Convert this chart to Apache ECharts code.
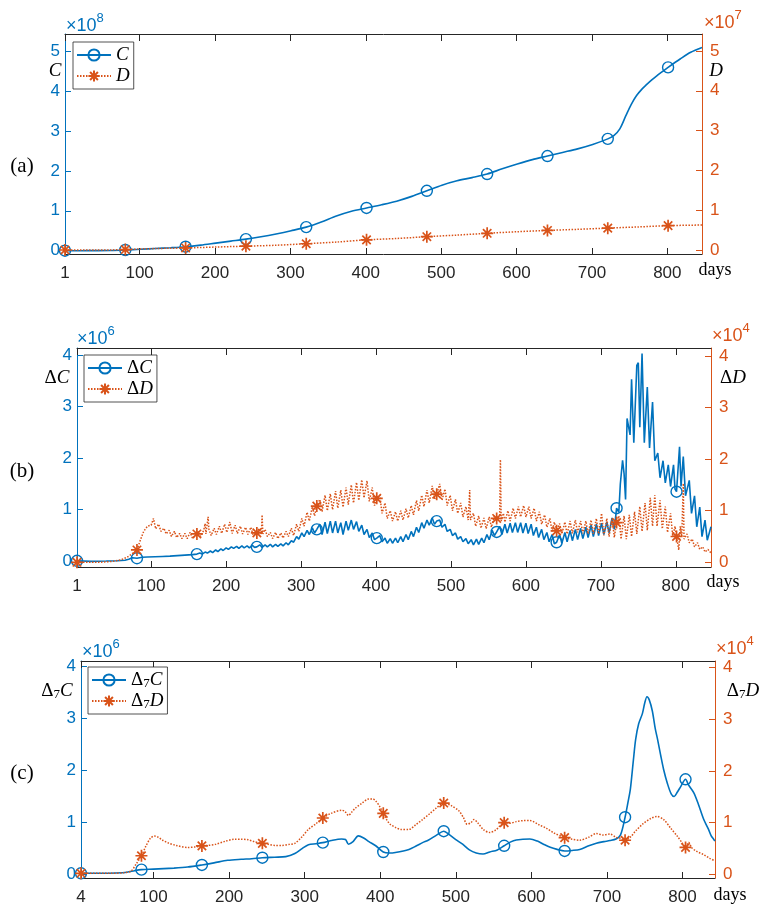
<!DOCTYPE html>
<html>
<head>
<meta charset="utf-8">
<script src="https://cdn.jsdelivr.net/npm/echarts@6/dist/echarts.min.js"></script>
<style>
  html, body { margin: 0; padding: 0; background: #fff; }
  #chart { width: 765px; height: 906px; }
</style>
</head>
<body>
<div id="chart"></div>
<script>
// ---------------- data ----------------
// (a) cumulative cases C (×10^8) and cumulative deaths D (×10^7), [day, value]
const cumCases = [[1,0],[21,0],[41,0.001],[61,0.004],[81,0.017],[101,0.035],[121,0.055],[141,0.075],[161,0.1],[181,0.14],[201,0.19],[221,0.24],[241,0.29],[261,0.35],[281,0.42],[301,0.5],[321,0.59],[341,0.72],[361,0.87],[381,0.99],[401,1.07],[421,1.15],[441,1.24],[461,1.36],[481,1.5],[501,1.64],[521,1.75],[541,1.83],[561,1.92],[581,2.05],[601,2.17],[621,2.28],[641,2.37],[661,2.46],[681,2.55],[701,2.66],[721,2.8],[729,2.88],[737,3.05],[745,3.38],[752,3.66],[759,3.88],[766,4.04],[772,4.15],[779,4.27],[786,4.38],[793,4.48],[801,4.59],[817,4.8],[831,4.97],[846,5.09]];
const cumDeaths = [[1,0],[41,0.0003],[61,0.002],[81,0.012],[101,0.027],[121,0.037],[141,0.045],[161,0.052],[201,0.075],[241,0.097],[281,0.12],[321,0.158],[361,0.2],[401,0.255],[441,0.29],[481,0.335],[521,0.375],[561,0.42],[601,0.46],[641,0.492],[681,0.52],[721,0.55],[761,0.58],[801,0.612],[846,0.628]];

// (b) daily new cases ΔC (×10^6) and daily new deaths ΔD (×10^4)
const dailyCases = [[1,0.01],[20,0],[40,0.005],[55,0.01],[65,0.02],[70,0.04],[75,0.07],[81,0.06],[88,0.08],[95,0.085],[105,0.09],[115,0.095],[125,0.1],[135,0.11],[145,0.12],[155,0.13],[161,0.14],[165,0.16],[168,0.14],[172,0.18],[175,0.16],[179,0.2],[182,0.17],[186,0.22],[189,0.19],[193,0.24],[196,0.21],[200,0.26],[203,0.23],[207,0.28],[210,0.25],[214,0.29],[217,0.25],[221,0.3],[224,0.26],[228,0.3],[231,0.26],[235,0.31],[238,0.27],[241,0.28],[245,0.32],[248,0.27],[252,0.32],[255,0.28],[259,0.33],[262,0.28],[266,0.33],[269,0.29],[273,0.34],[276,0.3],[280,0.36],[283,0.32],[287,0.4],[290,0.37],[294,0.48],[297,0.43],[301,0.55],[304,0.48],[308,0.6],[311,0.52],[315,0.65],[318,0.55],[321,0.62],[325,0.72],[328,0.52],[332,0.76],[335,0.54],[339,0.78],[342,0.55],[346,0.78],[349,0.55],[353,0.75],[356,0.52],[360,0.78],[363,0.6],[367,0.8],[370,0.62],[374,0.77],[377,0.58],[381,0.7],[384,0.52],[388,0.62],[391,0.46],[395,0.55],[398,0.42],[401,0.45],[405,0.5],[408,0.38],[412,0.45],[415,0.35],[419,0.44],[422,0.35],[426,0.45],[429,0.36],[433,0.48],[436,0.38],[440,0.52],[443,0.42],[447,0.58],[450,0.48],[454,0.66],[457,0.56],[461,0.75],[464,0.64],[468,0.8],[471,0.7],[475,0.84],[478,0.72],[481,0.78],[485,0.8],[488,0.66],[492,0.72],[495,0.58],[499,0.62],[502,0.5],[506,0.55],[509,0.43],[513,0.48],[516,0.38],[520,0.44],[523,0.34],[527,0.42],[530,0.32],[534,0.43],[537,0.33],[541,0.45],[544,0.36],[548,0.52],[551,0.42],[555,0.6],[558,0.5],[561,0.57],[565,0.68],[568,0.52],[572,0.72],[575,0.55],[579,0.74],[582,0.56],[586,0.75],[589,0.56],[593,0.75],[596,0.55],[600,0.74],[603,0.54],[607,0.72],[610,0.5],[614,0.66],[617,0.46],[621,0.62],[624,0.42],[628,0.56],[631,0.38],[635,0.52],[638,0.34],[641,0.37],[645,0.52],[648,0.35],[652,0.56],[655,0.38],[659,0.6],[662,0.4],[666,0.62],[669,0.42],[673,0.64],[676,0.44],[680,0.66],[683,0.46],[687,0.7],[690,0.48],[694,0.72],[697,0.5],[701,0.74],[704,0.52],[708,0.76],[711,0.55],[715,0.84],[718,0.62],[721,1.03],[724,0.95],[726,1.5],[729,1.96],[731,1.7],[733,1.2],[735,2.77],[737,2.75],[739,2.45],[741,3.53],[744,2.3],[748,3.8],[750,3.85],[752,2.6],[755,4.03],[758,2.3],[762,3.38],[765,2.2],[769,3.09],[772,1.95],[776,2.1],[779,1.62],[783,1.95],[786,1.52],[790,1.87],[793,1.45],[797,1.87],[799,1.4],[801,1.35],[805,2.22],[807,1.45],[810,2.03],[813,1.27],[818,1.57],[821,0.93],[825,1.27],[828,0.67],[832,1.05],[835,0.48],[839,0.8],[842,0.41],[847,0.67]];
const dailyDeaths = [[1,0],[30,0],[50,0.02],[60,0.05],[68,0.1],[75,0.17],[81,0.24],[86,0.45],[90,0.6],[95,0.7],[100,0.72],[103,0.85],[106,0.65],[110,0.74],[113,0.6],[117,0.66],[120,0.55],[124,0.62],[127,0.5],[131,0.6],[134,0.48],[138,0.56],[141,0.46],[145,0.56],[148,0.46],[152,0.58],[155,0.47],[161,0.55],[163,0.6],[166,0.5],[170,0.62],[172,0.75],[173,0.55],[176,0.88],[177,0.64],[180,0.52],[184,0.66],[187,0.54],[191,0.7],[194,0.56],[198,0.74],[201,0.58],[205,0.78],[208,0.56],[212,0.72],[215,0.56],[219,0.7],[222,0.55],[226,0.68],[229,0.54],[233,0.68],[236,0.53],[241,0.57],[244,0.65],[247,0.55],[248,0.92],[249,0.55],[252,0.64],[255,0.5],[259,0.58],[262,0.46],[266,0.58],[269,0.46],[273,0.57],[276,0.47],[280,0.6],[283,0.5],[287,0.66],[290,0.52],[294,0.74],[297,0.6],[301,0.85],[304,0.7],[308,0.97],[311,0.8],[315,1.08],[318,0.9],[321,1.09],[325,1.22],[328,0.98],[332,1.3],[335,1.0],[339,1.33],[342,1.02],[346,1.38],[349,1.05],[353,1.4],[356,1.07],[360,1.45],[363,1.12],[367,1.5],[370,1.15],[374,1.55],[377,1.2],[381,1.6],[384,1.25],[388,1.58],[391,1.18],[395,1.45],[398,1.1],[401,1.24],[405,1.3],[408,0.95],[412,1.15],[415,0.85],[419,1.0],[422,0.8],[426,0.98],[429,0.8],[433,1.0],[436,0.82],[440,1.04],[443,0.86],[447,1.1],[450,0.92],[454,1.2],[457,1.0],[461,1.3],[464,1.08],[468,1.4],[471,1.15],[475,1.48],[478,1.22],[481,1.32],[485,1.52],[488,1.2],[492,1.42],[495,1.1],[499,1.3],[502,1.0],[506,1.22],[509,0.95],[513,1.15],[516,0.88],[520,1.08],[523,0.82],[525,1.4],[526,0.82],[530,0.95],[533,0.7],[537,0.9],[540,0.66],[544,0.86],[547,0.65],[551,0.88],[554,0.68],[558,0.9],[561,0.85],[565,0.9],[566,1.99],[567,0.8],[570,0.95],[572,0.78],[576,1.0],[579,0.8],[583,1.05],[586,0.85],[590,1.08],[593,0.88],[597,1.1],[600,0.88],[604,1.08],[607,0.85],[611,1.05],[614,0.8],[618,0.98],[621,0.74],[625,0.92],[628,0.68],[632,0.85],[635,0.6],[638,0.78],[641,0.61],[645,0.75],[648,0.55],[652,0.78],[655,0.55],[659,0.8],[662,0.56],[666,0.82],[669,0.58],[673,0.8],[676,0.56],[680,0.8],[683,0.55],[687,0.82],[690,0.55],[694,0.85],[697,0.55],[701,0.95],[704,0.52],[708,0.85],[711,0.5],[715,0.85],[718,0.48],[721,0.77],[724,0.9],[727,0.45],[731,0.9],[734,0.45],[738,0.92],[741,0.5],[745,0.98],[748,0.55],[752,1.08],[755,0.6],[759,1.15],[762,0.62],[766,1.25],[769,0.7],[772,1.3],[775,0.7],[779,1.2],[782,0.65],[786,1.08],[789,0.58],[793,0.95],[796,0.5],[799,0.7],[801,0.5],[804,0.24],[806,0.7],[808,0.5],[810,1.53],[811,0.45],[815,0.55],[818,0.38],[822,0.45],[825,0.3],[829,0.38],[832,0.25],[836,0.3],[839,0.2],[843,0.25],[847,0.18]];

// (c) 7-day differences Δ7C (×10^6) and Δ7D (×10^4)
const weeklyCases = [[4,0.02],[30,0.02],[50,0.025],[65,0.04],[75,0.07],[84,0.09],[100,0.1],[127,0.12],[145,0.14],[164,0.18],[180,0.22],[198,0.27],[216,0.29],[230,0.3],[244,0.32],[260,0.33],[275,0.34],[287,0.4],[297,0.5],[305,0.57],[315,0.59],[324,0.61],[335,0.65],[349,0.68],[354,0.67],[358,0.58],[364,0.63],[371,0.74],[378,0.7],[385,0.63],[394,0.55],[404,0.43],[412,0.41],[420,0.42],[438,0.48],[448,0.55],[456,0.61],[464,0.66],[475,0.76],[484,0.83],[490,0.78],[500,0.67],[509,0.58],[518,0.47],[527,0.41],[536,0.39],[545,0.43],[555,0.47],[564,0.55],[572,0.62],[580,0.66],[598,0.68],[608,0.64],[616,0.58],[625,0.52],[634,0.48],[644,0.45],[654,0.46],[664,0.48],[676,0.55],[686,0.6],[696,0.63],[704,0.65],[712,0.68],[718,0.76],[724,1.1],[728,1.4],[731,1.64],[735,2.2],[738,2.6],[742,2.9],[747,3.1],[750,3.3],[753,3.42],[756,3.36],[760,3.15],[764,2.8],[767,2.6],[771,2.3],[775,2.02],[780,1.75],[785,1.55],[789,1.5],[793,1.58],[798,1.7],[804,1.83],[808,1.72],[815,1.57],[821,1.35],[828,1.06],[834,0.88],[838,0.74],[841,0.68],[843,0.64]];
const weeklyDeaths = [[4,0.02],[40,0.02],[60,0.03],[70,0.06],[77,0.2],[84,0.36],[90,0.55],[96,0.7],[101,0.74],[106,0.72],[112,0.66],[119,0.61],[130,0.56],[145,0.52],[155,0.53],[164,0.55],[172,0.56],[182,0.58],[195,0.64],[207,0.68],[216,0.68],[225,0.67],[234,0.63],[244,0.6],[252,0.58],[261,0.56],[270,0.56],[280,0.58],[287,0.6],[296,0.72],[305,0.87],[315,0.98],[324,1.09],[335,1.18],[349,1.24],[353,1.22],[358,1.14],[362,1.2],[367,1.28],[376,1.38],[385,1.46],[390,1.46],[394,1.42],[399,1.32],[404,1.18],[408,1.07],[413,0.97],[420,0.91],[427,0.87],[438,0.87],[447,0.96],[456,1.06],[466,1.18],[474,1.28],[484,1.38],[494,1.33],[504,1.23],[510,1.1],[515,0.97],[520,1.0],[524,1.06],[530,0.98],[537,0.86],[545,0.81],[553,0.86],[564,1.0],[572,0.99],[580,1.02],[590,1.04],[598,1.04],[610,0.96],[620,0.89],[630,0.8],[644,0.71],[654,0.68],[664,0.66],[676,0.72],[686,0.79],[695,0.76],[704,0.78],[713,0.71],[718,0.7],[724,0.66],[731,0.72],[738,0.84],[748,0.98],[758,1.08],[766,1.12],[775,1.06],[784,0.9],[793,0.74],[800,0.6],[804,0.52],[808,0.62],[812,0.52],[818,0.45],[828,0.38],[836,0.31],[843,0.26]];

// days that carry a marker
const markerDaysAB = [1,81,161,241,321,401,481,561,641,721,801];
const markerDaysC  = [4,84,164,244,324,404,484,564,644,724,804];

// tick labels
const dayTicksAB = [1,100,200,300,400,500,600,700,800];
const dayTicksC  = [4,100,200,300,400,500,600,700,800];
const yTicksA = [0,1,2,3,4,5];
const yTicksBC = [0,1,2,3,4];

// ---------------- styling ----------------
const BLUE = '#0072BD', ORANGE = '#D95319', DARK = '#262626';
const SANS = "'Liberation Sans', Arial, Helvetica, sans-serif";
const SERIF = "'Liberation Serif', 'DejaVu Serif', 'Times New Roman', serif";
const ASTERISK = 'path://M5 0L5 10M0 5L10 5M1.5 1.5L8.5 8.5M1.5 8.5L8.5 1.5';

const panels = [
  { grid: {left: 65, top: 34, width: 637, height: 220}, x: [1, 846], xt: dayTicksAB,
    yl: [-0.083, 5.426], yr: [-0.1, 5.427], yt: yTicksA },
  { grid: {left: 77, top: 348, width: 634, height: 219}, x: [1, 847], xt: dayTicksAB,
    yl: [-0.11, 4.136], yr: [-0.091, 4.155], yt: yTicksBC },
  { grid: {left: 81, top: 661, width: 634, height: 218}, x: [4, 843], xt: dayTicksC,
    yl: [-0.071, 4.109], yr: [-0.071, 4.129], yt: yTicksBC }
];

const grids = [], xAxes = [], yAxes = [];
panels.forEach((p, i) => {
  grids.push(p.grid);
  const tickInside = (vals, color, len) => ({show: true, inside: true, length: len, customValues: vals,
                                             lineStyle: {color, width: 1}});
  xAxes.push({
    type: 'value', gridIndex: i, position: 'bottom', min: p.x[0], max: p.x[1],
    axisLine: {onZero: false, lineStyle: {color: DARK, width: 1}},
    axisTick: tickInside(p.xt, DARK, 6),
    axisLabel: {customValues: p.xt, color: DARK, fontFamily: SANS, fontSize: 17, margin: 11},
    splitLine: {show: false}
  });
  xAxes.push({
    type: 'value', gridIndex: i, position: 'top', min: p.x[0], max: p.x[1],
    axisLine: {onZero: false, lineStyle: {color: DARK, width: 1}},
    axisTick: tickInside(p.xt, DARK, 7),
    axisLabel: {show: false}, splitLine: {show: false}
  });
  yAxes.push({
    type: 'value', gridIndex: i, position: 'left', min: p.yl[0], max: p.yl[1],
    axisLine: {show: true, onZero: false, lineStyle: {color: BLUE, width: 1}},
    axisTick: tickInside(p.yt, BLUE, 6),
    axisLabel: {customValues: p.yt, color: BLUE, fontFamily: SANS, fontSize: 17, margin: 5},
    splitLine: {show: false}
  });
  yAxes.push({
    type: 'value', gridIndex: i, position: 'right', min: p.yr[0], max: p.yr[1],
    axisLine: {show: true, onZero: false, lineStyle: {color: ORANGE, width: 1}},
    axisTick: tickInside(p.yt, ORANGE, 6),
    axisLabel: {customValues: p.yt, color: ORANGE, fontFamily: SANS, fontSize: 17, margin: 8},
    splitLine: {show: false}
  });
});

// line + markers only on the marker days
function makeSeries(name, points, panel, right, markerDays, smooth) {
  const isCases = !right;
  return {
    name, type: 'line', xAxisIndex: panel * 2, yAxisIndex: panel * 2 + (right ? 1 : 0),
    data: points.map(([d, v]) => markerDays.includes(d) ? [d, v] : {value: [d, v], symbol: 'none'}),
    symbol: isCases ? 'circle' : ASTERISK,
    symbolSize: isCases ? 11 : 12,
    showAllSymbol: true,
    smooth: smooth,
    itemStyle: isCases
      ? {color: 'rgba(255,255,255,0)', borderColor: BLUE, borderWidth: 1.4}
      : {color: ORANGE, borderColor: ORANGE, borderWidth: 1.7},
    lineStyle: isCases
      ? {color: BLUE, width: 1.6, type: 'solid'}
      : {color: ORANGE, width: 1.5, type: [1.5, 1.5]},
    emphasis: {disabled: true},
    animation: false,
    z: right ? 3 : 2
  };
}

const series = [
  makeSeries('C', cumCases, 0, false, markerDaysAB, 0.3),
  makeSeries('D', cumDeaths, 0, true, markerDaysAB, 0.3),
  makeSeries('ΔC', dailyCases, 1, false, markerDaysAB, false),
  makeSeries('ΔD', dailyDeaths, 1, true, markerDaysAB, false),
  makeSeries('Δ7C', weeklyCases, 2, false, markerDaysC, 0.3),
  makeSeries('Δ7D', weeklyDeaths, 2, true, markerDaysC, 0.3)
];

// math-style rich text: upright Δ, italic letter, small subscript
const mathRich = {
  u: {fontFamily: SERIF, fontSize: 19, lineHeight: 20, color: '#000'},
  i: {fontFamily: SERIF, fontSize: 19, fontStyle: 'italic', lineHeight: 20, color: '#000'},
  s: {fontFamily: SERIF, fontSize: 13, lineHeight: 12, verticalAlign: 'bottom', color: '#000'}
};
const mathText = {
  'C': '{i|C}', 'D': '{i|D}', 'ΔC': '{u|Δ}{i|C}', 'ΔD': '{u|Δ}{i|D}',
  'Δ7C': '{u|Δ}{s|7}{i|C}', 'Δ7D': '{u|Δ}{s|7}{i|D}'
};

function legendAt(left, top, names) {
  return {
    left, top, orient: 'vertical', data: names, selectedMode: false,
    itemWidth: 34, itemHeight: 14, itemGap: 1,
    padding: [3, 4, 3, 3],
    borderColor: DARK, borderWidth: 0.8, backgroundColor: '#fff',
    textStyle: {fontFamily: SERIF, fontSize: 19, lineHeight: 20, rich: mathRich},
    formatter: (n) => mathText[n]
  };
}

// free text: panel tags, axis quantities, exponents, axis unit
const gtext = (x, y, text, font, fill, align, rich) => ({
  type: 'text', x, y, silent: true,
  style: {text, font, fill, align: align || 'center', verticalAlign: 'middle', rich}
});
const richMath = {};
Object.keys(mathRich).forEach(k => {
  const s = mathRich[k];
  richMath[k] = {fontFamily: s.fontFamily, fontSize: s.fontSize, fontStyle: s.fontStyle || 'normal',
                 lineHeight: s.lineHeight, verticalAlign: s.verticalAlign, fill: '#000'};
});
// "×10" with a raised exponent
const expRich = (color) => ({
  b: {fontFamily: SANS, fontSize: 18, lineHeight: 28, fill: color},
  p: {fontFamily: SANS, fontSize: 13, lineHeight: 12, verticalAlign: 'top', fill: color}
});
const expText = (x, y, power, color) => gtext(x, y, '{b|×10}{p|' + power + '}', null, color, 'left', expRich(color));

const tagFont = '21px ' + SERIF;
const daysFont = '18px ' + SERIF;

const graphic = [
  gtext(22, 166, '(a)', tagFont, '#000'),
  gtext(22, 471, '(b)', tagFont, '#000'),
  gtext(22, 773, '(c)', tagFont, '#000'),

  expText(66, 26, 8, BLUE),
  expText(704, 23, 7, ORANGE),
  expText(77, 339, 6, BLUE),
  expText(712, 336, 4, ORANGE),
  expText(82, 652, 6, BLUE),
  expText(716, 649, 4, ORANGE),

  gtext(55, 71, mathText['C'], null, '#000', 'center', richMath),
  gtext(716, 71, mathText['D'], null, '#000', 'center', richMath),
  gtext(57, 378, mathText['ΔC'], null, '#000', 'center', richMath),
  gtext(733, 378, mathText['ΔD'], null, '#000', 'center', richMath),
  gtext(57, 691, mathText['Δ7C'], null, '#000', 'center', richMath),
  gtext(743, 691, mathText['Δ7D'], null, '#000', 'center', richMath),

  gtext(715, 270, 'days', daysFont, '#000'),
  gtext(723, 582, 'days', daysFont, '#000'),
  gtext(730, 895, 'days', daysFont, '#000')
];

const chart = echarts.init(document.getElementById('chart'), null, {renderer: 'canvas'});
chart.setOption({
  backgroundColor: '#fff',
  animation: false,
  grid: grids,
  xAxis: xAxes,
  yAxis: yAxes,
  legend: [
    legendAt(73, 42, ['C', 'D']),
    legendAt(84, 355, ['ΔC', 'ΔD']),
    legendAt(88, 667, ['Δ7C', 'Δ7D'])
  ],
  series,
  graphic
});
</script>
</body>
</html>
